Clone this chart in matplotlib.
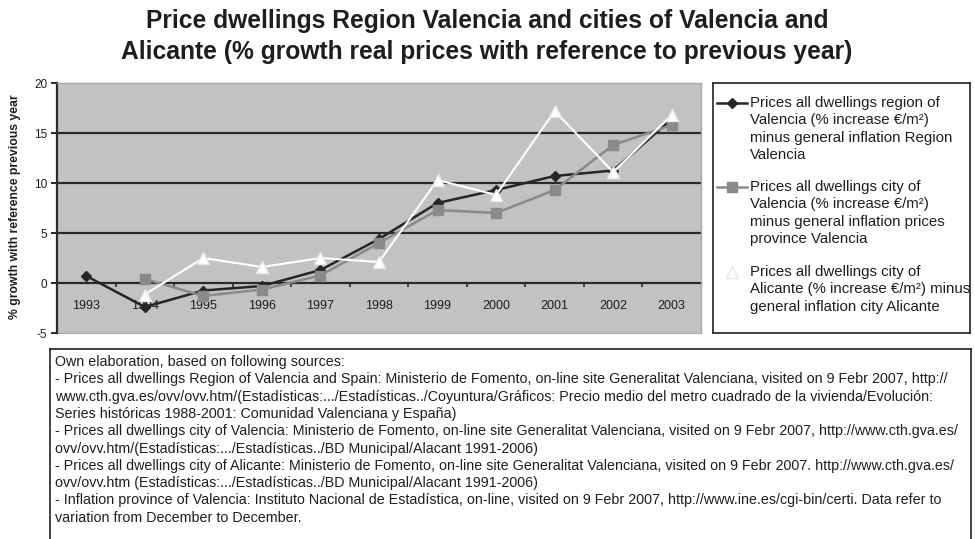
import matplotlib
matplotlib.use('Agg')
import matplotlib.pyplot as plt
from matplotlib.lines import Line2D
from matplotlib.patches import Rectangle

plt.rcParams['font.family'] = ['Liberation Sans', 'DejaVu Sans']

years = ['1993', '1994', '1995', '1996', '1997', '1998',
         '1999', '2000', '2001', '2002', '2003']

# real price growth, % with reference to previous year (None = no data)
region_valencia = [0.7, -2.4, -0.75, -0.3, 1.3, 4.4, 8.0, 9.3, 10.7, 11.25, 16.4]
city_valencia = [None, 0.4, -1.3, -0.65, 0.75, 4.0, 7.3, 7.0, 9.3, 13.8, 15.8]
city_alicante = [None, -1.15, 2.5, 1.6, 2.5, 2.1, 10.3, 8.8, 17.2, 11.1, 16.8]

y_ticks = [-5, 0, 5, 10, 15, 20]

title_lines = ['Price dwellings Region Valencia and cities of Valencia and',
               'Alicante (% growth real prices with reference to previous year)']
y_label = '% growth with reference previous year'

legend_labels = [
    ['Prices all dwellings region of', 'Valencia (% increase €/m²)',
     'minus general inflation Region', 'Valencia'],
    ['Prices all dwellings city of', 'Valencia (% increase €/m²)',
     'minus general inflation prices', 'province Valencia'],
    ['Prices all dwellings city of', 'Alicante (% increase €/m²) minus',
     'general inflation city Alicante'],
]

source_lines = [
    'Own elaboration, based on following sources:',
    '- Prices all dwellings Region of Valencia and Spain: Ministerio de Fomento, on-line site Generalitat Valenciana, visited on 9 Febr 2007, http://',
    'www.cth.gva.es/ovv/ovv.htm/(Estadísticas:.../Estadísticas../Coyuntura/Gráficos: Precio medio del metro cuadrado de la vivienda/Evolución:',
    'Series históricas 1988-2001: Comunidad Valenciana y España)',
    '- Prices all dwellings city of Valencia: Ministerio de Fomento, on-line site Generalitat Valenciana, visited on 9 Febr 2007, http://www.cth.gva.es/',
    'ovv/ovv.htm/(Estadísticas:.../Estadísticas../BD Municipal/Alacant 1991-2006)',
    '- Prices all dwellings city of Alicante: Ministerio de Fomento, on-line site Generalitat Valenciana, visited on 9 Febr 2007. http://www.cth.gva.es/',
    'ovv/ovv.htm (Estadísticas:.../Estadísticas../BD Municipal/Alacant 1991-2006)',
    '- Inflation province of Valencia: Instituto Nacional de Estadística, on-line, visited on 9 Febr 2007, http://www.ine.es/cgi-bin/certi. Data refer to',
    'variation from December to December.',
]

W, H = 975, 539
TXT = '#1e1e1e'


def fx(px):
    return px / W


def fy(py):
    return 1 - py / H


styles = [
    dict(color='#262626', marker='D', markersize=5.5, lw=1.8,
         mfc='#262626', mec='#262626'),
    dict(color='#8a8a8a', marker='s', markersize=7, lw=1.8,
         mfc='#8a8a8a', mec='#8a8a8a'),
    dict(color='#ffffff', marker='^', markersize=8, lw=1.5,
         mfc='#ffffff', mec='#e8e8e8'),
]
series = [region_valencia, city_valencia, city_alicante]

fig = plt.figure(figsize=(W / 100, H / 100), dpi=100)
fig.patch.set_facecolor('white')

# title
for i, line in enumerate(title_lines):
    fig.text(fx(487), fy(21 + 31 * i), line, ha='center', va='center',
             fontsize=17.7, fontweight='bold', color=TXT)

# main plot area
ax = fig.add_axes([fx(57), fy(333), fx(701) - fx(57), fy(83) - fy(333)])
ax.set_facecolor('#c2c2c2')
x = list(range(len(years)))
for vals, st in zip(series, styles):
    xs = [xi for xi, v in zip(x, vals) if v is not None]
    ys = [v for v in vals if v is not None]
    ax.plot(xs, ys, zorder=3, **st)

ax.set_xlim(-0.5, len(years) - 0.5)
ax.set_ylim(-5, 20)
ax.set_yticks(y_ticks)
ax.set_yticklabels([str(t) for t in y_ticks], fontsize=8.5, color=TXT)
for t in [5, 10, 15]:
    ax.axhline(t, color='#2a2a2a', lw=1.6, zorder=1)

# category axis crossing at zero, tick marks between categories
ax.spines['bottom'].set_position(('data', 0))
ax.spines['bottom'].set_color('#2a2a2a')
ax.spines['bottom'].set_linewidth(1.6)
ax.spines['bottom'].set_zorder(2)
ax.set_xticks([i + 0.5 for i in range(len(years) - 1)])
ax.set_xticklabels([])
ax.set_xticks(x, minor=True)
ax.set_xticklabels(years, minor=True, fontsize=9, color=TXT)
ax.tick_params(axis='x', which='major', direction='out', length=3,
               width=1.2, color='#2a2a2a')
ax.tick_params(axis='x', which='minor', length=0, pad=12)
ax.tick_params(axis='y', direction='out', length=4, width=1.4,
               color='#2a2a2a', pad=3)
ax.spines['left'].set_color('#2a2a2a')
ax.spines['left'].set_linewidth(1.6)
for s in ['top', 'right']:
    ax.spines[s].set_color('#a8a8a8')
    ax.spines[s].set_linewidth(1.0)
ax.add_patch(Rectangle((0, 0), 1, 0.002, transform=ax.transAxes,
                       facecolor='#a8a8a8', edgecolor='#a8a8a8', lw=0.8,
                       clip_on=False, zorder=0))

fig.text(fx(15), fy(207), y_label, rotation=90, ha='center', va='center',
         fontsize=8.8, fontweight='bold', color=TXT)

# legend box
lax = fig.add_axes([fx(713), fy(333), fx(970) - fx(713), fy(83) - fy(333)])
lax.set_xlim(0, 257)
lax.set_ylim(250, 0)
lax.set_xticks([])
lax.set_yticks([])
for s in lax.spines.values():
    s.set_color('#222222')
    s.set_linewidth(1.2)
entry_tops = [20, 104, 189]
for top, lines, st in zip(entry_tops, legend_labels, styles):
    h = Line2D([4, 34], [top, top], color=st['color'], lw=st['lw'])
    lax.add_line(h)
    lax.plot([19], [top], marker=st['marker'], ms=st['markersize'],
             mfc=st['mfc'], mec=st['mec'], ls='none')
    for k, line in enumerate(lines):
        lax.text(37, top + 17.3 * k, line, ha='left', va='center',
                 fontsize=10.8, color=TXT, clip_on=False)

# sources box
sax = fig.add_axes([fx(50), fy(560), fx(971) - fx(50), fy(349) - fy(560)])
sax.set_xticks([])
sax.set_yticks([])
for s in sax.spines.values():
    s.set_color('#222222')
    s.set_linewidth(1.2)
for k, line in enumerate(source_lines):
    fig.text(fx(55), fy(362 + 17.3 * k), line, ha='left', va='center',
             fontsize=10.3, color=TXT)

fig.savefig('out.png', dpi=100)
